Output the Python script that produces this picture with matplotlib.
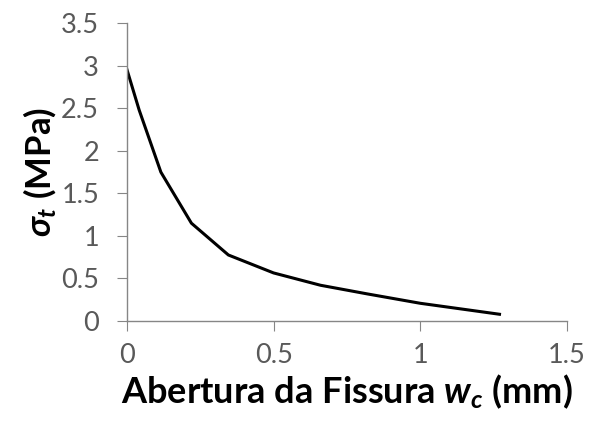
import matplotlib
matplotlib.use("Agg")
import matplotlib.pyplot as plt

# dados
abertura = [0.0, 0.042, 0.116, 0.22, 0.346, 0.5, 0.66, 0.82, 1.0, 1.27]
tensao = [2.96, 2.48, 1.75, 1.15, 0.776, 0.565, 0.42, 0.318, 0.208, 0.079]
xticks = [0, 0.5, 1, 1.5]
yticks = [0, 0.5, 1, 1.5, 2, 2.5, 3, 3.5]

plt.rcParams["font.family"] = ["Lato", "DejaVu Sans"]
plt.rcParams["mathtext.fontset"] = "custom"
plt.rcParams["mathtext.it"] = "Lato:bold:italic"
plt.rcParams["mathtext.rm"] = "Lato:bold"

fig = plt.figure(figsize=(5.9, 4.32), dpi=100)
ax = fig.add_axes([0.215, 0.257, 0.746, 0.689])

ax.plot(abertura, tensao, color="black", linewidth=2.2)

ax.set_xlim(0, 1.5)
ax.set_ylim(0, 3.5)
ax.set_xticks(xticks)
ax.set_xticklabels(["0", "0.5", "1", "1.5"])
ax.set_yticks(yticks)
ax.set_yticklabels(["0", "0.5", "1", "1.5", "2", "2.5", "3", "3.5"])

for s in ["top", "right"]:
    ax.spines[s].set_visible(False)
for s in ["left", "bottom"]:
    ax.spines[s].set_color("#868686")
    ax.spines[s].set_linewidth(1.0)

ax.tick_params(axis="both", direction="out", length=7, width=0.8,
               color="#868686", labelcolor="#595959", labelsize=19.5)
ax.tick_params(axis="y", pad=13)
ax.tick_params(axis="x", pad=9)

ax.set_xlabel(r"Abertura da Fissura $w_c$ (mm)", fontsize=26,
              fontweight="bold", labelpad=3)
ax.set_ylabel(r"$\sigma_t$ (MPa)", fontsize=25, fontweight="bold",
              labelpad=2)

fig.savefig("out.png", dpi=100, facecolor="white")
